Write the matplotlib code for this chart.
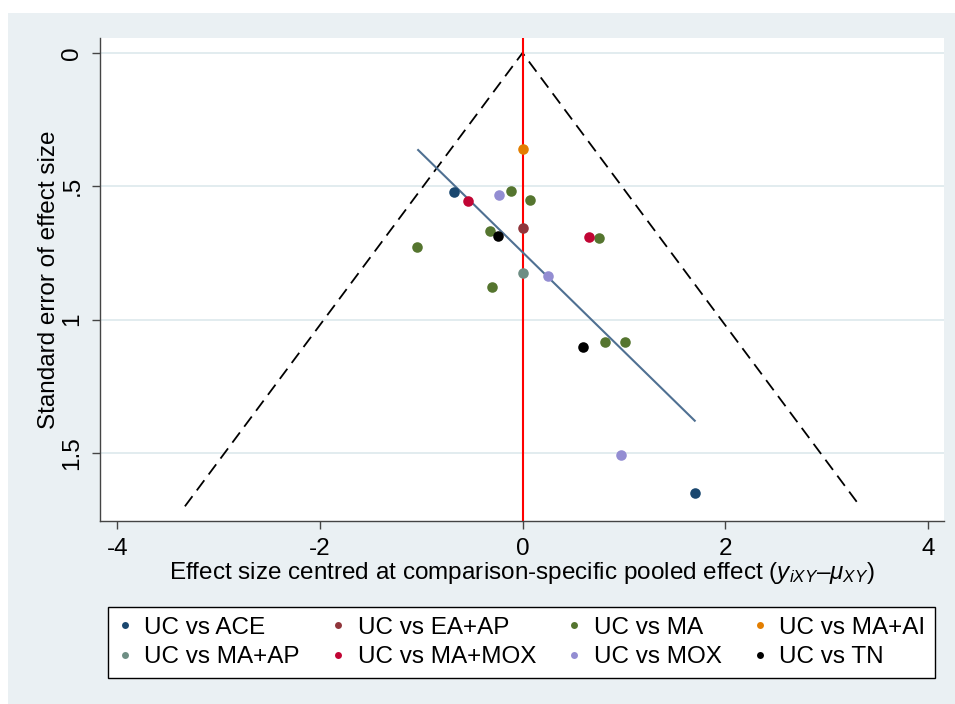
import matplotlib.pyplot as plt
from matplotlib.lines import Line2D
from matplotlib.patches import Rectangle

# comparison-adjusted funnel plot data (effect centred, standard error)
ace_x = [-0.68, 1.70]
ace_se = [0.522, 1.649]
eaap_x = [0.0]
eaap_se = [0.657]
ma_x = [-0.11, 0.074, -0.32, -1.04, 0.755, -0.30, 0.817, 1.008]
ma_se = [0.517, 0.552, 0.667, 0.726, 0.695, 0.879, 1.085, 1.085]
maai_x = [0.0]
maai_se = [0.36]
maap_x = [0.0]
maap_se = [0.826]
mamox_x = [-0.54, 0.66]
mamox_se = [0.557, 0.691]
mox_x = [-0.23, 0.255, 0.968]
mox_se = [0.531, 0.835, 1.509]
tn_x = [-0.24, 0.597]
tn_se = [0.685, 1.101]

labels = ["UC vs ACE", "UC vs EA+AP", "UC vs MA", "UC vs MA+AI",
          "UC vs MA+AP", "UC vs MA+MOX", "UC vs MOX", "UC vs TN"]
colors = ["#1a476f", "#90353b", "#55752f", "#e37e00",
          "#6e8e84", "#c10534", "#938dd2", "#000000"]

funnel_se_max = 1.70
reg_x = [-1.03, 1.70]
reg_se = [0.364, 1.379]

xticks = [-4, -2, 0, 2, 4]
yticks = [0, 0.5, 1, 1.5]
ytick_labels = ["0", ".5", "1", "1.5"]

plt.rcParams['font.family'] = ['Liberation Sans', 'DejaVu Sans']
plt.rcParams['mathtext.fontset'] = 'custom'
plt.rcParams['mathtext.rm'] = 'Liberation Sans'
plt.rcParams['mathtext.it'] = 'Liberation Sans:italic'

fs = 17.5

fig = plt.figure(figsize=(9.55, 7.04), dpi=100)
fig.patches.append(Rectangle((8 / 955, 0), 947 / 955, 691 / 704, transform=fig.transFigure,
                             facecolor='#eaf0f3', edgecolor='none', zorder=-10))
ax = fig.add_axes([100 / 955, 1 - 521 / 704, 844 / 955, 483 / 704])
ax.set_facecolor('white')

for y in yticks:
    ax.axhline(y, color='#dde9ec', lw=1.2, zorder=0)

# funnel
fx = [-1.96 * funnel_se_max, 0, 1.96 * funnel_se_max]
fy = [funnel_se_max, 0, funnel_se_max]
ax.plot(fx, fy, color='black', lw=1.3, dashes=(7, 4), zorder=2)
ax.axvline(0, color='#ff0000', lw=1.5, zorder=2)
ax.plot(reg_x, reg_se, color='#4f7092', lw=1.5, zorder=3)

series_x = [ace_x, eaap_x, ma_x, maai_x, maap_x, mamox_x, mox_x, tn_x]
series_se = [ace_se, eaap_se, ma_se, maai_se, maap_se, mamox_se, mox_se, tn_se]
for xs, ses, c in zip(series_x, series_se, colors):
    ax.plot(xs, ses, 'o', color=c, markersize=7.6, markeredgewidth=0, zorder=4)

ax.set_xlim(-4.17, 4.16)
ax.set_ylim(1.755, -0.056)
ax.set_xticks(xticks)
ax.set_xticklabels([str(t) for t in xticks])
ax.set_yticks(yticks)
ax.set_yticklabels(ytick_labels, rotation=90, va='center')

for s in ['top', 'right']:
    ax.spines[s].set_visible(False)
for s in ['left', 'bottom']:
    ax.spines[s].set_color('#444444')
    ax.spines[s].set_linewidth(1)
ax.tick_params(direction='out', length=6, width=1, color='#444444',
               labelsize=fs, pad=6)

ax.set_xlabel('Effect size centred at comparison-specific pooled effect ('
              r'$y_{iXY}$–$\mu_{XY}$)', fontsize=fs, labelpad=0)
ax.set_ylabel('Standard error of effect size', fontsize=fs, labelpad=1)

# legend fills column by column, so reorder to get row-wise entries
order = [0, 4, 1, 5, 2, 6, 3, 7]
handles = [Line2D([], [], marker='o', ls='none', color=colors[i], markersize=5,
                  markeredgewidth=0) for i in order]
fig.legend(handles, [labels[i] for i in order], ncol=4, loc='lower left',
           bbox_to_anchor=(108 / 955, 1 - 678 / 704, 827 / 955, 79 / 704),
           mode='expand', fontsize=fs, frameon=True, fancybox=False,
           edgecolor='black', framealpha=1, handlelength=0.6, handletextpad=0.5,
           columnspacing=1.2, labelspacing=0.3, borderpad=0.4, borderaxespad=0)
fig.legends[0].get_frame().set_linewidth(1)

fig.savefig('out.png', dpi=100)
